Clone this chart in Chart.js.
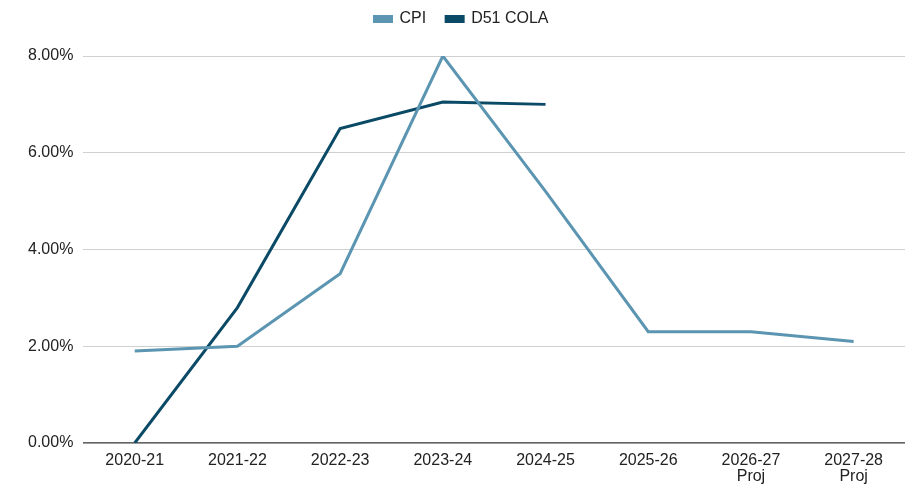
<!DOCTYPE html>
<html>
<head>
<meta charset="utf-8">
<script src="https://cdn.jsdelivr.net/npm/chart.js@4/dist/chart.umd.min.js"></script>
<style>
  html, body { margin: 0; padding: 0; background: #fff; overflow: hidden; }
  #wrap { width: 905px; height: 485px; }
</style>
</head>
<body>
<div id="wrap"><canvas id="myChart"></canvas></div>
<script>
const years = [["2020-21"], ["2021-22"], ["2022-23"], ["2023-24"], ["2024-25"], ["2025-26"], ["2026-27", "Proj"], ["2027-28", "Proj"]];
const cpi = [1.9, 2.0, 3.5, 8.0, 5.2, 2.3, 2.3, 2.1];
const d51Cola = [0, 2.8, 6.5, 7.05, 7.0, null, null, null];
const yTicks = [0, 2, 4, 6, 8];

Chart.defaults.font.family = "'Liberation Sans', Arial, sans-serif";
Chart.defaults.font.size = 16;
Chart.defaults.color = "#222";

// extra space under the legend
const legendMargin = {
    id: "legendMargin",
    beforeInit(chart) {
        const fit = chart.legend.fit;
        chart.legend.fit = function () {
            fit.bind(chart.legend)();
            this.height += 19;
        };
    }
};

new Chart("myChart", {
    type: "line",
    data: {
        labels: years,
        datasets: [{
            label: "CPI",
            data: cpi,
            borderColor: "#5b95b1",
            backgroundColor: "#5b95b1",
            borderWidth: 3,
            pointRadius: 0,
            fill: false
        },
        {
            label: "D51 COLA",
            data: d51Cola,
            borderColor: "#0b4a66",
            backgroundColor: "#0b4a66",
            borderWidth: 3,
            pointRadius: 0,
            fill: false
        }]
    },
    options: {
        responsive: true,
        maintainAspectRatio: false,
        animation: false,
        layout: { padding: { left: 18, right: 0, top: -9, bottom: -10 } },
        plugins: {
            legend: {
                position: "top",
                labels: { boxWidth: 17, boxHeight: 5, padding: 20 }
            },
            tooltip: { enabled: false }
        },
        scales: {
            x: {
                offset: true,
                grid: { display: false, drawTicks: false },
                border: { color: "#666", width: 1.5 },
                ticks: { padding: 10, maxRotation: 0, font: { lineHeight: 1 } }
            },
            y: {
                min: 0,
                max: 8,
                afterBuildTicks: axis => { axis.ticks = yTicks.map(v => ({ value: v })); },
                grid: { color: "#d0d0d0", drawTicks: false },
                border: { display: false },
                ticks: {
                    padding: 10,
                    callback: v => v.toFixed(2) + "%"
                }
            }
        }
    },
    plugins: [legendMargin]
});
</script>
</body>
</html>
